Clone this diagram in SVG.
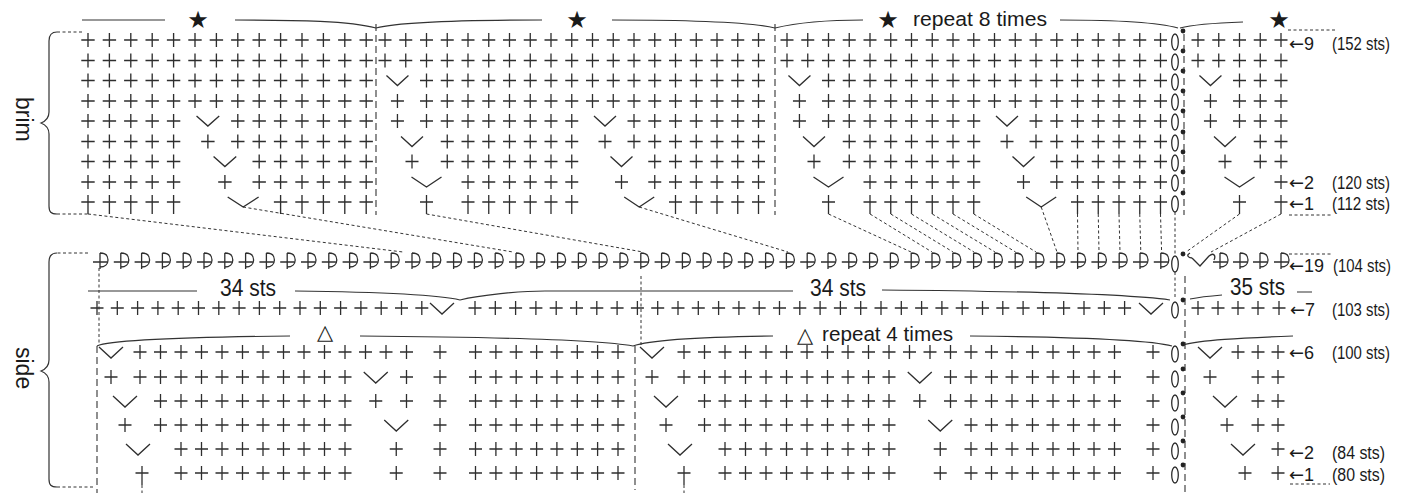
<svg xmlns="http://www.w3.org/2000/svg" xmlns:xlink="http://www.w3.org/1999/xlink" width="1412" height="493" viewBox="0 0 1412 493">
<style>
.s{stroke:#2e2e2e;stroke-width:1.3;fill:none}
.d{stroke:#333;stroke-width:1;fill:none;stroke-dasharray:3,2.5}
.dl{stroke:#333;stroke-width:1.1;fill:none;stroke-dasharray:7,4}
.b{stroke:#333;stroke-width:1.2;fill:none}
.t{font-family:"Liberation Sans",Arial,sans-serif;fill:#1a1a1a}
.sym{font-family:"DejaVu Sans",sans-serif;fill:#1a1a1a}
.ar{font-family:"DejaVu Sans",sans-serif}
</style>
<defs>
<path id="p" class="s" d="M-6.5,0H6.5M0,-7V7"/>
<path id="pl" class="s" d="M-6.5,0H6.5M0,-7V12"/>
<path id="v" class="s" d="M-11,-5L0,5L11,-5"/>
<path id="vw" class="s" d="M-15,-5L0,5L15,-5"/>
<path id="sv" class="s" d="M-12,-5L0,6L12,-5"/>
<ellipse id="ch" class="s" rx="3.3" ry="8"/>
<circle id="dt" r="2.4" fill="#222"/>
<path id="cr" class="s" d="M0,-9V7M-7,0H7M0,-9C6,-9 8,-6 8,-2C8,2 5,5 0,5"/>
<g id="b0_18"><use href="#p" x="0"/><use href="#p" x="20.75"/><use href="#b2_18"/></g>
<g id="b2_18"><use href="#b2_9"/><use href="#p" x="207.5"/><use href="#p" x="228.25"/><use href="#b12_18"/></g>
<g id="b2_9"><use href="#p" x="41.5"/><use href="#b3_9"/></g>
<g id="b3_9"><use href="#p" x="62.25"/><use href="#b4_9"/></g>
<g id="b4_9"><use href="#p" x="83"/><use href="#p" x="103.75"/><use href="#p" x="124.5"/><use href="#p" x="145.25"/><use href="#p" x="166"/><use href="#p" x="186.75"/></g>
<g id="b12_18"><use href="#p" x="249"/><use href="#b13_18"/></g>
<g id="b13_18"><use href="#p" x="269.75"/><use href="#b14_18"/></g>
<g id="b14_18"><use href="#p" x="290.5"/><use href="#p" x="311.25"/><use href="#p" x="332"/><use href="#p" x="352.75"/><use href="#p" x="373.5"/></g>
<g id="rep">
<use href="#b0_18" y="40"/>
<use href="#b0_18" y="60.5"/>
<use href="#v" x="12.45" y="80.5"/><use href="#b2_18" y="80.5"/>
<use href="#p" x="12.45" y="101"/><use href="#b2_18" y="101"/>
<use href="#p" x="12.45" y="121"/><use href="#b2_9" y="121"/><use href="#v" x="220" y="121"/><use href="#b12_18" y="121"/>
<use href="#v" x="27" y="141.5"/><use href="#b3_9" y="141.5"/><use href="#p" x="220" y="141.5"/><use href="#b12_18" y="141.5"/>
<use href="#p" x="27" y="161.5"/><use href="#b3_9" y="161.5"/><use href="#v" x="236.5" y="161.5"/><use href="#b13_18" y="161.5"/>
<use href="#vw" x="41.5" y="182"/><use href="#b4_9" y="182"/><use href="#p" x="236.5" y="182"/><use href="#b13_18" y="182"/>
<g transform="translate(0,202)"><use href="#pl" x="41.5"/><use href="#pl" x="83"/><use href="#pl" x="103.75"/><use href="#pl" x="124.5"/><use href="#pl" x="145.25"/><use href="#pl" x="166"/><use href="#pl" x="186.75"/><use href="#vw" x="254.2"/><use href="#pl" x="290.5"/><use href="#pl" x="311.25"/><use href="#pl" x="332"/><use href="#pl" x="352.75"/><use href="#pl" x="373.5"/></g>
</g>
<clipPath id="c1"><rect x="79" y="0" width="294" height="230"/></clipPath>
<clipPath id="c4"><rect x="1188" y="0" width="104" height="230"/></clipPath>
<g id="r2_10"><use href="#p" x="41"/><use href="#p" x="61.5"/><use href="#p" x="82"/><use href="#p" x="102.5"/><use href="#p" x="123"/><use href="#p" x="143.5"/><use href="#p" x="164"/><use href="#p" x="184.5"/><use href="#p" x="205"/></g>
<g id="r1_10"><use href="#p" x="20.5"/><use href="#r2_10"/></g>
<g id="r0_10"><use href="#p" x="0"/><use href="#r1_10"/></g>
<g id="r14_21"><use href="#p" x="287"/><use href="#p" x="307.5"/><use href="#p" x="328"/><use href="#p" x="348.5"/><use href="#p" x="369"/><use href="#p" x="389.5"/><use href="#p" x="410"/><use href="#p" x="430.5"/></g>
<g id="r13_21"><use href="#p" x="266.5"/><use href="#r14_21"/></g>
<g id="e8"><use href="#p" x="475.5"/><use href="#p" x="495.9"/><use href="#p" x="516.2"/><use href="#p" x="536.6"/><use href="#p" x="556.9"/><use href="#p" x="577.3"/><use href="#p" x="597.6"/><use href="#p" x="618"/></g>
<g id="crabs">
<use href="#cr" x="100" y="262"/><use href="#cr" x="120.8" y="262"/><use href="#cr" x="141.6" y="262"/><use href="#cr" x="162.4" y="262"/><use href="#cr" x="183.2" y="262"/><use href="#cr" x="204" y="262"/><use href="#cr" x="224.8" y="262"/><use href="#cr" x="245.6" y="262"/><use href="#cr" x="266.4" y="262"/><use href="#cr" x="287.2" y="262"/><use href="#cr" x="308" y="262"/><use href="#cr" x="328.8" y="262"/><use href="#cr" x="349.6" y="262"/>
</g>
<g id="p7a"><use href="#p" x="97"/><use href="#p" x="117.3"/><use href="#p" x="137.6"/><use href="#p" x="157.9"/><use href="#p" x="178.2"/><use href="#p" x="198.5"/><use href="#p" x="218.8"/><use href="#p" x="239.1"/><use href="#p" x="259.4"/><use href="#p" x="279.7"/><use href="#p" x="300"/></g>
</defs>

<g id="brim-brace">
<path class="d" d="M82,32H57"/>
<path class="b" d="M57,32C51,32 49,35 49,41V112C49,118 46,121 41,123C46,125 49,128 49,134V206C49,212 51,214 57,214"/>
<path class="d" d="M57,214H88"/>
<text class="t" font-size="23" transform="translate(16,97) rotate(90)">brim</text>
</g>
<g id="side-brace">
<path class="d" d="M88,253H57"/>
<path class="b" d="M57,253C51,253 49,256 49,262V360C49,366 46,369 41,371C46,373 49,376 49,382V479C49,485 51,487 57,487"/>
<path class="d" d="M57,487H95"/>
<text class="t" font-size="23" transform="translate(16,347) rotate(90)">side</text>
</g>

<g id="brim-top">
<path class="b" d="M82,20H165M235,20C300,20 350,21 376,28M376,28C400,22 460,20 542,20M612,20C700,20 750,22 775,28M775,28C800,22 830,20 863,20M1060,20C1120,20 1160,23 1178,28M1180,28C1195,24 1215,23 1243,22"/>
<text class="sym" font-size="24" x="198" y="28" text-anchor="middle">★</text>
<text class="sym" font-size="24" x="577" y="28" text-anchor="middle">★</text>
<text class="sym" font-size="24" x="888" y="28" text-anchor="middle">★</text>
<text class="t" font-size="20.5" x="913" y="26" textLength="134" lengthAdjust="spacingAndGlyphs">repeat 8 times</text>
<text class="sym" font-size="24" x="1279" y="28" text-anchor="middle">★</text>
<path class="d" d="M1288,30H1336"/>
</g>

<g id="brim-sec1" clip-path="url(#c1)"><use href="#rep" transform="translate(-19,0) scale(1.0313,1)"/></g>
<g id="brim-sec2"><use href="#rep" x="385"/></g>
<g id="brim-sec3"><use href="#rep" x="787"/></g>
<g id="brim-sec4" clip-path="url(#c4)"><use href="#rep" x="1198"/></g>
<g id="brim-chain">
<use href="#ch" x="1175" y="42"/><use href="#ch" x="1175" y="62"/><use href="#ch" x="1175" y="82"/><use href="#ch" x="1175" y="102"/><use href="#ch" x="1175" y="122"/><use href="#ch" x="1175" y="143"/><use href="#ch" x="1175" y="163"/><use href="#ch" x="1175" y="183"/><use href="#ch" x="1175" y="204"/>
<use href="#dt" x="1183" y="31"/><use href="#dt" x="1183" y="51"/><use href="#dt" x="1183" y="71"/><use href="#dt" x="1183" y="91"/><use href="#dt" x="1183" y="111"/><use href="#dt" x="1183" y="132"/><use href="#dt" x="1183" y="152"/><use href="#dt" x="1183" y="172"/><use href="#dt" x="1183" y="193"/>
</g>

<g id="side-row19">
<use href="#crabs"/><use href="#crabs" x="270.4"/><use href="#crabs" x="540.8"/><use href="#crabs" x="811.2"/>
<use href="#ch" x="1175" y="264"/><use href="#dt" x="1183" y="254"/>
<path class="s" d="M1190,253C1186,255 1188,258 1192,258M1192,258L1200,266L1209,256M1209,256C1214,252 1216,256 1214,260"/>
<use href="#cr" x="1220" y="262"/><use href="#cr" x="1240" y="262"/><use href="#cr" x="1260" y="262"/><use href="#cr" x="1281" y="262"/>
<path class="d" d="M1289,254H1332"/>
</g>

<g id="side-row7">
<g transform="translate(0,308)">
<use href="#p7a"/><use href="#p" x="320.3"/><use href="#p" x="340.6"/><use href="#p" x="360.9"/><use href="#p" x="381.2"/><use href="#p" x="401.5"/><use href="#p" x="421.8"/>
<use href="#sv" x="442"/>
<use href="#p7a" x="378"/><use href="#p7a" x="601.3"/><use href="#p7a" x="824.6"/>
<use href="#sv" x="1151"/>
<use href="#ch" x="1175" y="2"/><use href="#dt" x="1183" y="-8"/>
<use href="#p" x="1198"/><use href="#p" x="1218"/><use href="#p" x="1238"/><use href="#p" x="1258"/><use href="#p" x="1279"/>
</g>
</g>

<g id="side-braces">
<path class="b" d="M88,291H197M295,291C380,292 440,295 460,300M460,300C480,295 520,291 545,291H793M882,290C1000,291 1120,293 1170,300M1190,299C1200,297 1210,296 1222,295M1297,292H1312"/>
<text class="t" font-size="24" x="220" y="296" textLength="56" lengthAdjust="spacingAndGlyphs">34 sts</text>
<text class="t" font-size="24" x="810" y="296" textLength="56" lengthAdjust="spacingAndGlyphs">34 sts</text>
<text class="t" font-size="23" x="1230" y="295" textLength="55" lengthAdjust="spacingAndGlyphs">35 sts</text>
<path class="b" d="M97,346C110,340 200,337 290,336M360,336C500,337 600,340 633,346M633,346C650,340 700,337 773,336M970,336C1080,337 1150,340 1172,346M1183,345C1200,340 1240,338 1293,336"/>
<text class="sym" font-size="21" x="325" y="339" text-anchor="middle">△</text>
<text class="sym" font-size="21" x="805" y="342" text-anchor="middle">△</text>
<text class="t" font-size="20.5" x="822" y="341" textLength="131" lengthAdjust="spacingAndGlyphs">repeat 4 times</text>
</g>

<g id="side-sec1">
<g transform="translate(0,352)"><use href="#sv" x="111"/><use href="#r0_10" x="140"/><use href="#p" x="365.5"/><use href="#p" x="386"/><use href="#p" x="406.5"/><use href="#p" x="440"/><use href="#e8"/></g>
<g transform="translate(0,377)"><use href="#p" x="111"/><use href="#r0_10" x="140"/><use href="#sv" x="375.75"/><use href="#p" x="406.5"/><use href="#p" x="440"/><use href="#e8"/></g>
<g transform="translate(0,401)"><use href="#sv" x="125"/><use href="#r1_10" x="140"/><use href="#p" x="375.75"/><use href="#p" x="406.5"/><use href="#p" x="440"/><use href="#e8"/></g>
<g transform="translate(0,425)"><use href="#p" x="125"/><use href="#r1_10" x="140"/><use href="#sv" x="396.25"/><use href="#p" x="440"/><use href="#e8"/></g>
<g transform="translate(0,449)"><use href="#sv" x="138"/><use href="#r2_10" x="140"/><use href="#p" x="396.25"/><use href="#p" x="440"/><use href="#e8"/></g>
<g transform="translate(0,473)"><use href="#pl" x="142"/><use href="#r2_10" x="140"/><use href="#p" x="396.25"/><use href="#p" x="440"/><use href="#e8"/></g>
</g>
<g id="side-sec2">
<g transform="translate(0,352)"><use href="#sv" x="652"/><use href="#r0_10" x="684"/><use href="#p" x="909.5"/><use href="#p" x="930"/><use href="#r13_21" x="684"/><use href="#p" x="1153"/></g>
<g transform="translate(0,377)"><use href="#p" x="652"/><use href="#r0_10" x="684"/><use href="#sv" x="919.75"/><use href="#r13_21" x="684"/><use href="#p" x="1153"/></g>
<g transform="translate(0,401)"><use href="#sv" x="666"/><use href="#r1_10" x="684"/><use href="#p" x="919.75"/><use href="#r13_21" x="684"/><use href="#p" x="1153"/></g>
<g transform="translate(0,425)"><use href="#p" x="666"/><use href="#r1_10" x="684"/><use href="#sv" x="940.25"/><use href="#r14_21" x="684"/><use href="#p" x="1153"/></g>
<g transform="translate(0,449)"><use href="#sv" x="680"/><use href="#r2_10" x="684"/><use href="#p" x="940.25"/><use href="#r14_21" x="684"/><use href="#p" x="1153"/></g>
<g transform="translate(0,473)"><use href="#pl" x="684"/><use href="#r2_10" x="684"/><use href="#p" x="940.25"/><use href="#r14_21" x="684"/><use href="#p" x="1153"/></g>
</g>
<g id="side-sec3">
<use href="#sv" x="1210" y="352"/><use href="#p" x="1238" y="352"/><use href="#p" x="1258" y="352"/><use href="#p" x="1278" y="352"/>
<use href="#p" x="1210" y="377"/><use href="#p" x="1258" y="377"/><use href="#p" x="1278" y="377"/>
<use href="#sv" x="1225" y="401"/><use href="#p" x="1258" y="401"/><use href="#p" x="1278" y="401"/>
<use href="#p" x="1227" y="425"/><use href="#p" x="1258" y="425"/><use href="#p" x="1278" y="425"/>
<use href="#sv" x="1243" y="449"/><use href="#p" x="1278" y="449"/>
<use href="#p" x="1245" y="473"/><use href="#p" x="1278" y="473"/>
</g>
<g id="side-chain">
<use href="#ch" x="1175" y="354"/><use href="#ch" x="1175" y="379"/><use href="#ch" x="1175" y="403"/><use href="#ch" x="1175" y="427"/><use href="#ch" x="1175" y="451"/><use href="#ch" x="1175" y="475"/>
<use href="#dt" x="1183" y="344"/><use href="#dt" x="1183" y="369"/><use href="#dt" x="1183" y="393"/><use href="#dt" x="1183" y="417"/><use href="#dt" x="1183" y="441"/><use href="#dt" x="1183" y="465"/>
</g>

<g id="connectors">
<path class="dl" d="M376,24V215M775,24V215M1184,34V215"/>
<path class="d" d="M88,214L403,252M243,207L513,252M426.5,214L643,252M639.2,207L788,252"/>
<path class="d" d="M828.5,214L911,252M870,214L932,252M890.75,214L953,252M911.5,214L974,252M932.25,214L995,252M953,214L1015.6,252M973.75,214L1036,252M1041.2,207L1057,252M1077.5,214L1078,252M1098.25,214L1099,252M1119,214L1120,252M1139.75,214L1140.8,252M1160.5,214L1161.6,252M1175,212V254M1239.5,214L1186,252M1281,214L1211,252"/>
<path class="d" d="M1289,215H1333"/>
<path class="d" d="M99,268V344M641,276V345M1175,272V299"/>
<path class="dl" d="M97,346V493M635,346V490M1185,276V493"/>
<path class="d" d="M142,485V493M684,485V493M1290,484H1330"/>
</g>

<g id="labels" class="t">
<text font-size="18" x="1289" y="50"><tspan class="ar">←</tspan>9</text><text font-size="18" x="1332" y="50" textLength="58" lengthAdjust="spacingAndGlyphs">(152 sts)</text>
<text font-size="18" x="1289" y="189"><tspan class="ar">←</tspan>2</text><text font-size="18" x="1332" y="189" textLength="58" lengthAdjust="spacingAndGlyphs">(120 sts)</text>
<text font-size="18" x="1289" y="210"><tspan class="ar">←</tspan>1</text><text font-size="18" x="1332" y="210" textLength="58" lengthAdjust="spacingAndGlyphs">(112 sts)</text>
<text font-size="18" x="1289" y="272"><tspan class="ar">←</tspan>19</text><text font-size="18" x="1333" y="272" textLength="58" lengthAdjust="spacingAndGlyphs">(104 sts)</text>
<text font-size="18" x="1290" y="316"><tspan class="ar">←</tspan>7</text><text font-size="18" x="1332" y="316" textLength="58" lengthAdjust="spacingAndGlyphs">(103 sts)</text>
<text font-size="18" x="1289" y="359"><tspan class="ar">←</tspan>6</text><text font-size="18" x="1332" y="359" textLength="58" lengthAdjust="spacingAndGlyphs">(100 sts)</text>
<text font-size="18" x="1289" y="459"><tspan class="ar">←</tspan>2</text><text font-size="18" x="1332" y="459" textLength="53" lengthAdjust="spacingAndGlyphs">(84 sts)</text>
<text font-size="18" x="1289" y="481"><tspan class="ar">←</tspan>1</text><text font-size="18" x="1332" y="481" textLength="53" lengthAdjust="spacingAndGlyphs">(80 sts)</text>
</g>
</svg>
